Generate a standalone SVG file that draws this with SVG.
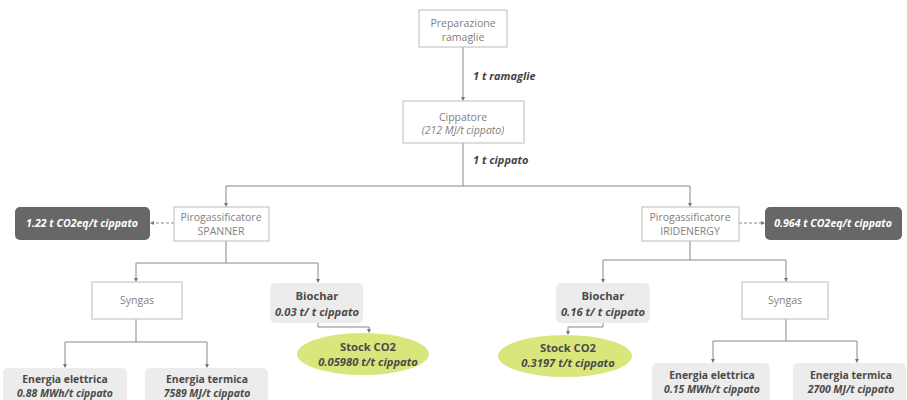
<svg xmlns="http://www.w3.org/2000/svg" width="907" height="400" viewBox="0 0 907 400">
<defs>
<marker id="ah" markerWidth="4" markerHeight="4" refX="3" refY="2" orient="auto" markerUnits="userSpaceOnUse">
<path d="M0,0 L4,2 L0,4 z" fill="#777"/>
</marker>
<style>
.box{fill:#fff;stroke:#bbb;stroke-width:1}
.gbox{fill:#ececec;stroke:none}
.dbox{fill:#676767;stroke:none}
.ell{fill:#d9e67c;stroke:none}
.t{font-family:"Open Sans","Liberation Sans",sans-serif;font-size:10.5px;fill:#808080;text-anchor:middle}
.ti{font-style:italic}
.b{font-family:"Open Sans","Liberation Sans",sans-serif;font-size:10.4px;font-weight:bold;fill:#4a4a4a;text-anchor:middle}
.bl{font-size:11.2px}
.bi{font-style:italic}
.w{font-family:"Open Sans","Liberation Sans",sans-serif;font-size:10.6px;font-weight:bold;font-style:italic;fill:#fff;text-anchor:middle}
.lbl{font-family:"Open Sans","Liberation Sans",sans-serif;font-size:11px;font-weight:bold;font-style:italic;fill:#444}
.c{fill:none;stroke:#888;stroke-width:1}
.d{fill:none;stroke:#888;stroke-width:1;stroke-dasharray:3,2}
</style>
</defs>
<rect width="907" height="400" fill="#fff"/>
<g id="connectors">
<path class="c" d="M463,47 V100" marker-end="url(#ah)"/>
<text class="lbl" x="473" y="80">1 t ramaglie</text>
<path class="c" d="M463,143 V186"/>
<text class="lbl" x="473" y="164">1 t cippato</text>
<path class="c" d="M226,186 H690"/>
<path class="c" d="M226,186 V206" marker-end="url(#ah)"/>
<path class="c" d="M690,186 V206" marker-end="url(#ah)"/>
<path class="d" d="M174,223 H151" marker-end="url(#ah)"/>
<path class="d" d="M739,223 H764" marker-end="url(#ah)"/>
<path class="c" d="M226,241 V263 M136,263 H318"/>
<path class="c" d="M136,263 V281" marker-end="url(#ah)"/>
<path class="c" d="M318,263 V282" marker-end="url(#ah)"/>
<path class="c" d="M690,241 V260 M603,260 H786"/>
<path class="c" d="M603,260 V282" marker-end="url(#ah)"/>
<path class="c" d="M786,260 V281" marker-end="url(#ah)"/>
<path class="c" d="M318,323 V327 H369 V332" marker-end="url(#ah)"/>
<path class="c" d="M603,323 V327 H568 V334" marker-end="url(#ah)"/>
<path class="c" d="M136,319 V342 M65,342 H207"/>
<path class="c" d="M65,342 V367" marker-end="url(#ah)"/>
<path class="c" d="M207,342 V367" marker-end="url(#ah)"/>
<path class="c" d="M786,319 V341 M713,341 H857"/>
<path class="c" d="M713,341 V362" marker-end="url(#ah)"/>
<path class="c" d="M857,341 V362" marker-end="url(#ah)"/>
</g>
<g id="preparazione">
<rect class="box" x="419" y="10" width="88" height="37"/>
<text class="t" x="463" y="27">Preparazione</text>
<text class="t" x="463" y="41">ramaglie</text>
</g>
<g id="cippatore">
<rect class="box" x="403" y="101" width="121" height="42"/>
<text class="t" x="463" y="121">Cippatore</text>
<text class="t ti" x="463" y="134">(212 MJ/t cippato)</text>
</g>
<g id="piro-spanner">
<rect class="box" x="174" y="207" width="95" height="34"/>
<text class="t" x="221" y="221">Pirogassificatore</text>
<text class="t" x="221" y="235">SPANNER</text>
</g>
<g id="co2-spanner">
<rect class="dbox" x="15" y="207" width="135" height="33" rx="5"/>
<text class="w" x="82" y="227">1.22 t CO2eq/t cippato</text>
</g>
<g id="piro-iridenergy">
<rect class="box" x="642" y="207" width="97" height="34"/>
<text class="t" x="690" y="221">Pirogassificatore</text>
<text class="t" x="690" y="235">IRIDENERGY</text>
</g>
<g id="co2-iridenergy">
<rect class="dbox" x="765" y="207" width="137" height="33" rx="5"/>
<text class="w" x="833" y="227">0.964 t CO2eq/t cippato</text>
</g>
<g id="syngas-l">
<rect class="box" x="92" y="282" width="90" height="37"/>
<text class="t" x="137" y="304">Syngas</text>
</g>
<g id="biochar-l">
<rect class="gbox" x="270" y="283" width="93" height="40" rx="5"/>
<text class="b bl" x="317" y="300">Biochar</text>
<text class="b bl bi" x="317" y="316">0.03 t/ t cippato</text>
</g>
<g id="stock-l">
<ellipse class="ell" cx="363" cy="354" rx="66" ry="21"/>
<text class="b bl" x="368" y="351">Stock CO2</text>
<text class="b bl bi" x="368" y="366">0.05980 t/t cippato</text>
</g>
<g id="biochar-r">
<rect class="gbox" x="556" y="283" width="94" height="40" rx="5"/>
<text class="b bl" x="603" y="300">Biochar</text>
<text class="b bl bi" x="603" y="316">0.16 t/ t cippato</text>
</g>
<g id="stock-r">
<ellipse class="ell" cx="565" cy="356" rx="67" ry="21"/>
<text class="b bl" x="568" y="352">Stock CO2</text>
<text class="b bl bi" x="568" y="367">0.3197 t/t cippato</text>
</g>
<g id="syngas-r">
<rect class="box" x="742" y="282" width="86" height="37"/>
<text class="t" x="785" y="304">Syngas</text>
</g>
<g id="el-l">
<rect class="gbox" x="3" y="368" width="124" height="40" rx="5"/>
<text class="b" x="65" y="383">Energia elettrica</text>
<text class="b bi" x="65" y="397">0.88 MWh/t cippato</text>
</g>
<g id="term-l">
<rect class="gbox" x="145" y="368" width="123" height="40" rx="5"/>
<text class="b" x="207" y="383">Energia termica</text>
<text class="b bi" x="207" y="397">7589 MJ/t cippato</text>
</g>
<g id="el-r">
<rect class="gbox" x="652" y="363" width="118" height="42" rx="5"/>
<text class="b" x="712" y="379">Energia elettrica</text>
<text class="b bi" x="712" y="393">0.15 MWh/t cippato</text>
</g>
<g id="term-r">
<rect class="gbox" x="793" y="363" width="113" height="42" rx="5"/>
<text class="b" x="851" y="379">Energia termica</text>
<text class="b bi" x="851" y="393">2700 MJ/t cippato</text>
</g>
</svg>
